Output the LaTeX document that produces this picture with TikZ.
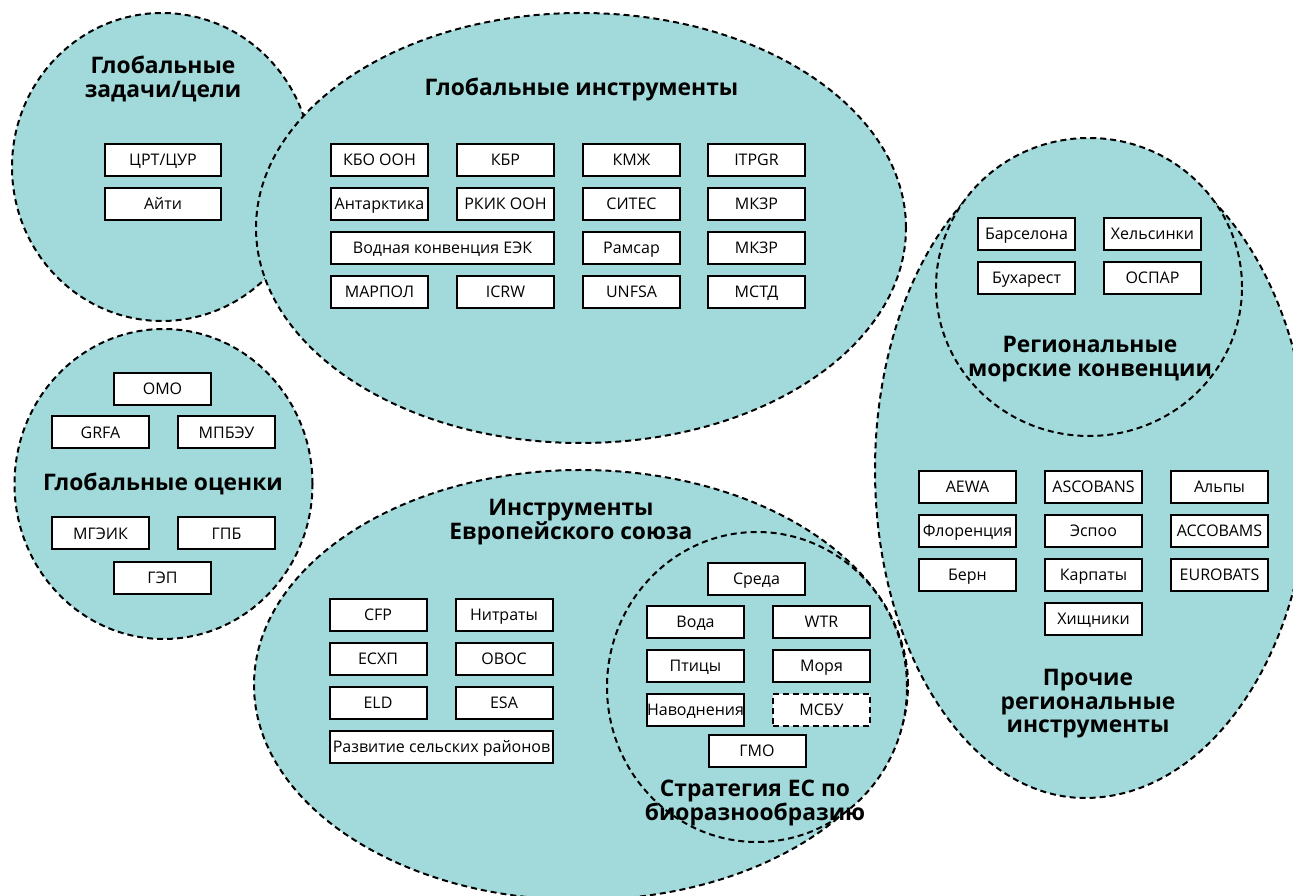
\documentclass[tikz,border=0pt]{standalone}
\usepackage{fontspec}
\setmainfont{Open Sans}
\definecolor{regfill}{RGB}{162,217,218}
\newcommand{\lblfont}{\fontsize{16}{18}\selectfont}
\newcommand{\ttlfont}{\bfseries\fontsize{22.8}{23.5}\selectfont}
\tikzset{
  region/.style={fill=regfill, draw=black, line width=2pt, dash pattern=on 6pt off 4pt},
  box/.style={draw=black, fill=white, line width=2pt, minimum width=97pt, minimum height=32pt, inner sep=0pt, text height=13.5pt, text depth=2pt, font=\lblfont},
  wbox/.style={box, minimum width=116pt},
  lbox/.style={box, minimum width=223pt},
  dbox/.style={box, dash pattern=on 6pt off 4pt},
  ttl/.style={font=\ttlfont, align=center, inner sep=0pt},
}
\begin{document}
\begin{tikzpicture}[x=1pt,y=1pt]
\useasboundingbox (0,0) rectangle (1293,896);
\clip (0,0) rectangle (1293,896);
% regions
\path[region] (162,729) ellipse[x radius=150, y radius=154];
\path[region] (581,668) ellipse[x radius=325, y radius=215];
\path[region] (163.5,412) ellipse[x radius=149, y radius=155];
\path[region] (581,211) ellipse[x radius=327, y radius=215];
\path[region] (757,209) ellipse[x radius=150, y radius=155];
\path[region] (1085,754) arc[start angle=90, end angle=270, x radius=210, y radius=328]
   arc[start angle=-90, end angle=90, x radius=224, y radius=328] -- cycle;
\path[region] (1089,609) ellipse[x radius=153, y radius=149];

% global tasks
\node[ttl] (tGT) at (163,817) {Глобальные\\задачи/цели};
\node[wbox] (crt) at (163,736) {ЦРТ/ЦУР};
\node[wbox] (aiti) at (163,692) {Айти};

% global instruments
\node[ttl] (tGI) at (581.5,807) {Глобальные инструменты};
\node[box] (kbo) at (379.5,736) {КБО ООН};
\node[box] (kbr) at (505.5,736) {КБР};
\node[box] (kmzh) at (631.5,736) {КМЖ};
\node[box] (itpgr) at (756.5,736) {ITPGR};
\node[box] (ant) at (379.5,692) {Антарктика};
\node[box] (rkik) at (505.5,692) {РКИК ООН};
\node[box] (cites) at (631.5,692) {СИТЕС};
\node[box] (mkzr1) at (756.5,692) {МКЗР};
\node[lbox] (vodn) at (442.5,648) {Водная конвенция ЕЭК};
\node[box] (ramsar) at (631.5,648) {Рамсар};
\node[box] (mkzr2) at (756.5,648) {МКЗР};
\node[box] (marpol) at (379.5,604) {МАРПОЛ};
\node[box] (icrw) at (505.5,604) {ICRW};
\node[box] (unfsa) at (631.5,604) {UNFSA};
\node[box] (mstd) at (756.5,604) {МСТД};

% global assessments
\node[box] (omo) at (162.5,507) {ОМО};
\node[box] (grfa) at (100.5,463.5) {GRFA};
\node[box] (mpbeu) at (226.5,463.5) {МПБЭУ};
\node[ttl] (tGA) at (163,412) {Глобальные оценки};
\node[box] (mgeik) at (100.5,362.5) {МГЭИК};
\node[box] (gpb) at (226.5,362.5) {ГПБ};
\node[box] (gep) at (162.5,318) {ГЭП};

% EU
\node[ttl] (tEU) at (571,374) {Инструменты\\Европейского союза};
\node[box] (cfp) at (378,281) {CFP};
\node[box] (nitr) at (504,281) {Нитраты};
\node[box] (esxp) at (378,237) {ЕСХП};
\node[box] (ovos) at (504,237) {ОВОС};
\node[box] (eld) at (378,193) {ELD};
\node[box] (esa) at (504,193) {ESA};
\node[lbox] (razv) at (441.5,149) {Развитие сельских районов};

% EU biodiversity strategy
\node[box] (sreda) at (756.5,317) {Среда};
\node[box] (voda) at (695.5,274) {Вода};
\node[box] (wtr) at (821.5,274) {WTR};
\node[box] (ptic) at (695.5,230) {Птицы};
\node[box] (morya) at (821.5,230) {Моря};
\node[box] (navod) at (695.5,186) {Наводнения};
\node[dbox] (msbu) at (821.5,186) {МСБУ};
\node[box] (gmo) at (757,145) {ГМО};
\node[ttl] (tSB) at (755,93) {Стратегия ЕС по\\биоразнообразию};

% regional marine
\node[box] (barc) at (1026.5,662) {Барселона};
\node[box] (hels) at (1152.5,662) {Хельсинки};
\node[box] (buch) at (1026.5,618) {Бухарест};
\node[box] (ospar) at (1152.5,618) {ОСПАР};
\node[ttl] (tRM) at (1090,537) {Региональные\\морские конвенции};

% other regional
\node[box] (aewa) at (967.5,409) {AEWA};
\node[box] (ascob) at (1093.5,409) {ASCOBANS};
\node[box] (alps) at (1219.5,409) {Альпы};
\node[box] (flor) at (967.5,365) {Флоренция};
\node[box] (espoo) at (1093.5,365) {Эспоо};
\node[box] (accob) at (1219.5,365) {ACCOBAMS};
\node[box] (bern) at (967.5,321) {Берн};
\node[box] (karp) at (1093.5,321) {Карпаты};
\node[box] (eurob) at (1219.5,321) {EUROBATS};
\node[box] (hishch) at (1093.5,277) {Хищники};
\node[ttl] (tOR) at (1088,192) {Прочие\\региональные\\инструменты};
\end{tikzpicture}
\end{document}
